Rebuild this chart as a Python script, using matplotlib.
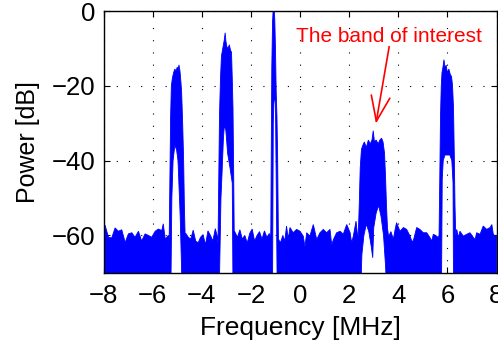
import numpy as np
import matplotlib
matplotlib.use('Agg')
import matplotlib.pyplot as plt

plt.rcParams['font.family'] = ['Liberation Sans', 'DejaVu Sans']

# --- upper envelope of the spectrum (MHz, dB) ---
floor_a_mhz = [-8.0, -7.94, -7.8, -7.67, -7.53, -7.4, -7.26, -7.12, -6.99, -6.85, -6.72,
               -6.58, -6.45, -6.31, -6.18, -6.04, -5.9, -5.77, -5.63, -5.57, -5.49, -5.36]
floor_a_db = [-57.5, -57.3, -60.5, -60.7, -58, -58.9, -58.5, -61.9, -59.6, -59.3, -60.5,
              -58.9, -61.5, -59.6, -60, -60.5, -58.9, -58.3, -58.7, -56.9, -61, -60]

band_m5_mhz = [-5.33, -5.3, -5.27, -5.24, -5.2, -5.15, -5.1, -5.05, -5.0, -4.96, -4.93,
               -4.89, -4.85, -4.82, -4.78, -4.74, -4.71, -4.68]
band_m5_db = [-62, -45, -28, -20, -18, -16.5, -15.5, -16, -15, -15.5, -14.4,
              -16, -19, -22, -30, -40, -52, -60]

floor_b_mhz = [-4.65, -4.55, -4.45, -4.35, -4.25, -4.15, -4.05, -3.95, -3.85, -3.75,
               -3.65, -3.55, -3.45, -3.38]
floor_b_db = [-59.5, -60.5, -61, -58.6, -61.5, -62, -60.5, -59.8, -62.5, -58.8,
              -60, -61.5, -58.2, -60]

band_m3_mhz = [-3.34, -3.31, -3.28, -3.24, -3.2, -3.16, -3.12, -3.08, -3.05, -3.02,
               -2.98, -2.93, -2.88, -2.83, -2.79, -2.76, -2.73, -2.7, -2.68]
band_m3_db = [-62, -45, -28, -18, -12, -10.5, -9, -7.5, -5.8, -8,
              -9.5, -10, -9, -10.5, -11, -18, -26, -45, -60]

floor_c_mhz = [-2.66, -2.55, -2.45, -2.35, -2.25, -2.15, -2.05, -1.95, -1.85, -1.75,
               -1.65, -1.55, -1.45, -1.35, -1.25, -1.2]
floor_c_db = [-59, -60.5, -58.5, -61, -60, -62, -59.5, -58.3, -61.5, -60,
              -59, -61, -58.8, -60.5, -59.5, -61]

band_m1_mhz = [-1.19, -1.17, -1.15, -1.12, -1.09, -1.06, -1.03, -1.0, -0.97, -0.94, -0.91, -0.89]
band_m1_db = [-58, -35, -15, -3, 1, 1, -2, -10, -22, -28, -40, -55]

floor_d_mhz = [-0.88, -0.8, -0.7, -0.62, -0.55, -0.48, -0.41, -0.28, -0.14, 0.0,
               0.13, 0.2, 0.27, 0.4, 0.54, 0.68, 0.81, 0.95, 1.08, 1.22,
               1.29, 1.36, 1.49, 1.63, 1.76, 1.9, 2.04, 2.1, 2.17, 2.28, 2.34]
floor_d_db = [-61, -62, -60, -61.5, -57.5, -61, -57.9, -59.3, -58.4, -58.9,
              -60.2, -63, -59.3, -60.2, -57.1, -61.1, -59.3, -58.4, -59.3, -58.4,
              -62.5, -61.1, -59.3, -58.9, -59.7, -57.1, -59.3, -62, -60.2, -56.2, -60]

band_soi_mhz = [2.37, 2.41, 2.45, 2.5, 2.55, 2.62, 2.7, 2.78, 2.86, 2.93, 2.98,
                3.03, 3.1, 3.18, 3.25, 3.32, 3.38, 3.44, 3.48, 3.52, 3.56, 3.6]
band_soi_db = [-60, -52, -42, -37, -36, -35, -36.5, -34.5, -35.5, -34.5, -32,
               -35, -34.5, -35.5, -34.5, -34, -35, -38, -44, -52, -58, -60]

floor_e_mhz = [3.63, 3.7, 3.8, 3.87, 3.93, 4.07, 4.21, 4.34, 4.48, 4.55,
               4.61, 4.75, 4.88, 5.02, 5.16, 5.29, 5.36, 5.43, 5.56, 5.63]
floor_e_db = [-60, -59, -61, -58.5, -56.6, -58.9, -57.9, -58.4, -60.2, -61.5,
              -61.5, -57.9, -58.4, -59.3, -59.3, -60.6, -61.5, -59.7, -60.2, -60.6]

band_p6_mhz = [5.66, 5.69, 5.72, 5.75, 5.78, 5.82, 5.86, 5.9, 5.95, 6.0,
               6.06, 6.12, 6.17, 6.21, 6.25, 6.28, 6.31, 6.34]
band_p6_db = [-60, -45, -28, -20, -16.5, -15, -13, -15, -14.5, -16.5,
              -15.5, -17, -17.5, -20, -26, -38, -52, -60]

floor_f_mhz = [6.38, 6.45, 6.51, 6.65, 6.79, 6.92, 7.06, 7.13, 7.19, 7.33,
               7.46, 7.6, 7.74, 7.81, 7.87, 7.94, 8.0]
floor_f_db = [-58.4, -60.6, -58.9, -60.2, -59.7, -59.3, -60.6, -61.1, -59.3, -59.7,
              -57.5, -58.4, -57.9, -57.1, -59.7, -60.2, -60]

# --- lower envelope: below the axis except the white gaps inside each band ---
hole_m5_mhz = [-5.26, -5.22, -5.17, -5.1, -5.03, -4.97, -4.88, -4.8]
hole_m5_db = [-75, -50, -40, -36, -37, -40, -55, -75]
hole_m3_mhz = [-3.29, -3.22, -3.18, -3.12, -3.08, -3.02, -2.95, -2.85, -2.76, -2.73]
hole_m3_db = [-75, -50, -44, -34, -30.5, -32, -38, -42, -46, -75]
hole_m1_mhz = [-1.12, -1.09, -1.05, -1.0, -0.95, -0.93]
hole_m1_db = [-75, -30, -22, -25, -60, -75]
hole_soi_mhz = [2.47, 2.52, 2.6, 2.7, 2.8, 2.9, 2.96, 3.0, 3.1, 3.2, 3.3, 3.4, 3.48, 3.53]
hole_soi_db = [-75, -65, -60, -57, -59, -63, -66, -58, -54, -52, -55, -60, -68, -75]
hole_p6_mhz = [5.76, 5.79, 5.83, 5.9, 6.1, 6.18, 6.23, 6.25]
hole_p6_db = [-75, -45, -40, -38.5, -38.5, -40, -46, -75]

x_ticks = [-8, -6, -4, -2, 0, 2, 4, 6, 8]
y_ticks = [-60, -40, -20, 0]

up_f = np.concatenate([floor_a_mhz, band_m5_mhz, floor_b_mhz, band_m3_mhz, floor_c_mhz,
                       band_m1_mhz, floor_d_mhz, band_soi_mhz, floor_e_mhz, band_p6_mhz,
                       floor_f_mhz])
up_p = np.concatenate([floor_a_db, band_m5_db, floor_b_db, band_m3_db, floor_c_db,
                       band_m1_db, floor_d_db, band_soi_db, floor_e_db, band_p6_db,
                       floor_f_db])
lo_f = np.concatenate([[-8.0], hole_m5_mhz, hole_m3_mhz, hole_m1_mhz, hole_soi_mhz,
                       hole_p6_mhz, [8.0]])
lo_p = np.concatenate([[-75], hole_m5_db, hole_m3_db, hole_m1_db, hole_soi_db,
                       hole_p6_db, [-75]])

fig = plt.figure(figsize=(4.98, 3.47), dpi=100)
ax = fig.add_axes([0.208, 0.214, 0.789, 0.754])

# spectrum drawn as a polygon between the two envelopes
ax.fill(np.concatenate([up_f, lo_f[::-1]]), np.concatenate([up_p, lo_p[::-1]]),
        facecolor='#0000ff', edgecolor='#0000ff', linewidth=0.6, zorder=2)

ax.set_xlim(-8, 8)
ax.set_ylim(-70, 0)
ax.set_xticks(x_ticks)
ax.set_yticks(y_ticks)
ax.grid(True, color='black', linestyle=(0, (1, 10)), linewidth=0.8)
ax.set_axisbelow(True)
ax.tick_params(direction='in', top=True, right=True, length=4, labelsize=18.5)
ax.tick_params(axis='x', pad=8)
ax.tick_params(axis='y', pad=6)
for sp in ax.spines.values():
    sp.set_linewidth(1.0)
    sp.set_zorder(3)

ax.set_xlabel('Frequency [MHz]', fontsize=19, labelpad=6)
ax.set_ylabel('Power [dB]', fontsize=18, labelpad=8)

ax.text(3.64, -8.2, 'The band of interest', color='red', fontsize=15,
        ha='center', va='baseline')
ax.annotate('', xy=(3.09, -30.1), xytext=(3.63, -9.5),
            arrowprops=dict(arrowstyle='->,head_length=1.2,head_width=0.45',
                            color='red', lw=1.2, shrinkA=0, shrinkB=0,
                            mutation_scale=15))

fig.savefig('out.png', dpi=100)
